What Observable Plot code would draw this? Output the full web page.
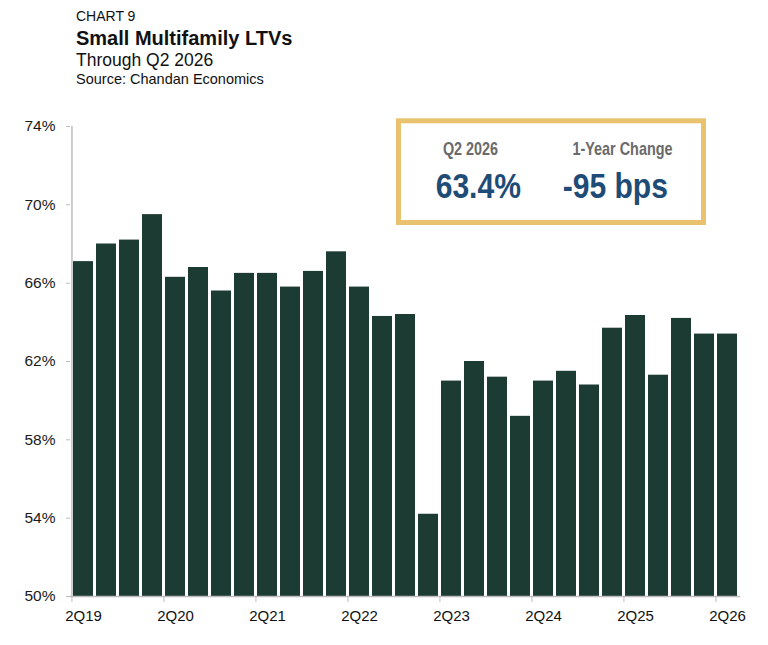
<!DOCTYPE html>
<html>
<head>
<meta charset="utf-8">
<script src="https://cdn.jsdelivr.net/npm/d3@7"></script>
<script src="https://cdn.jsdelivr.net/npm/@observablehq/plot@0.6"></script>
<style>
  html, body { margin: 0; padding: 0; background: #fff; }
  #wrap { position: relative; width: 768px; height: 645px; overflow: hidden; }
  #overlay { position: absolute; left: 0; top: 0; pointer-events: none; }
</style>
</head>
<body>
<div id="wrap"></div>
<script>
const quarters = ["2Q19","3Q19","4Q19","1Q20","2Q20","3Q20","4Q20","1Q21","2Q21","3Q21","4Q21","1Q22","2Q22","3Q22","4Q22","1Q23","2Q23","3Q23","4Q23","1Q24","2Q24","3Q24","4Q24","1Q25","2Q25","3Q25","4Q25","1Q26","2Q26"];
const ltv = [67.1,68.0,68.2,69.5,66.3,66.8,65.6,66.5,66.5,65.8,66.6,67.6,65.8,64.3,64.4,54.2,61.0,62.0,61.2,59.2,61.0,61.5,60.8,63.7,64.35,61.3,64.2,63.4,63.4];
const yTicks = [50,54,58,62,66,70,74];
const xLabels = ["2Q19","2Q20","2Q21","2Q22","2Q23","2Q24","2Q25","2Q26"];
const titleLines = ["CHART 9","Small Multifamily LTVs","Through Q2 2026","Source: Chandan Economics"];
const boxLabels = ["Q2 2026","1-Year Change"];
const boxValues = ["63.4%","-95 bps"];

const data = quarters.map((q, i) => ({q, v: ltv[i]}));

const W = 768, H = 645;
const mL = 70, mR = 28, mT = 126, mB = 49;
const pIn = 0.14, pOut = 0.07;
const step = (W - mL - mR) / (quarters.length - pIn + 2 * pOut);
const axisGray = "#bdbdbd";
const font = "'Liberation Sans', Arial, Helvetica, sans-serif";

const chart = Plot.plot({
  width: W,
  height: H,
  marginTop: mT,
  marginBottom: mB,
  marginLeft: mL,
  marginRight: mR,
  style: {fontFamily: font, background: "#fff", color: "#111"},
  x: {domain: quarters, paddingInner: pIn, paddingOuter: pOut, label: null},
  y: {domain: [50, 74], label: null},
  marks: [
    Plot.barY(data, {x: "q", y1: 50, y2: "v", fill: "#1C3B32"}),
    Plot.ruleY([50], {stroke: axisGray, strokeWidth: 1.5}),
    Plot.ruleX([quarters[0]], {y1: 50, y2: 74, dx: -step / 2, stroke: axisGray, strokeWidth: 1.5}),
    Plot.axisY({ticks: yTicks, tickFormat: d => d + "%", tickSize: 4, tickPadding: 11, stroke: axisGray, fill: "#1a1a1a", fontSize: 15.5, label: null}),
    Plot.axisX({ticks: xLabels, tickSize: 0, tickPadding: 14, fill: "#111", fontSize: 15, label: null}),
    Plot.axisX({ticks: xLabels, tickSize: 6, tickFormat: () => "", dx: -step / 2, stroke: axisGray, label: null})
  ]
});
document.getElementById("wrap").appendChild(chart);

// Overlay: title block and summary box
const ns = "http://www.w3.org/2000/svg";
const svg = d3.select("#wrap").append("svg")
  .attr("id", "overlay").attr("width", W).attr("height", H)
  .attr("xmlns", ns).style("font-family", font);

const titleSpec = [
  {y: 20.7, size: 14, weight: "normal"},
  {y: 45, size: 20, weight: "bold"},
  {y: 66, size: 17.5, weight: "normal"},
  {y: 84, size: 14.5, weight: "normal"}
];
titleLines.forEach((t, i) => {
  svg.append("text").attr("x", 76).attr("y", titleSpec[i].y)
    .attr("font-size", titleSpec[i].size).attr("font-weight", titleSpec[i].weight)
    .attr("fill", "#111").text(t);
});

svg.append("rect").attr("x", 398.5).attr("y", 120.8).attr("width", 305).attr("height", 101.7)
  .attr("fill", "#fff").attr("stroke", "#E8C26E").attr("stroke-width", 5);

const labelX = [470.5, 622.5];
const valueX = [478.3, 615.3];
boxLabels.forEach((t, i) => {
  svg.append("text").attr("transform", `translate(${labelX[i]},155) scale(0.8,1)`)
    .attr("text-anchor", "middle").attr("font-size", 18).attr("font-weight", "bold")
    .attr("fill", "#6a6a6a").text(t);
});
boxValues.forEach((t, i) => {
  svg.append("text").attr("transform", `translate(${valueX[i]},198.3) scale(0.86,1)`)
    .attr("text-anchor", "middle").attr("font-size", 35).attr("font-weight", "bold")
    .attr("fill", "#1F4C77").text(t);
});
</script>
</body>
</html>
